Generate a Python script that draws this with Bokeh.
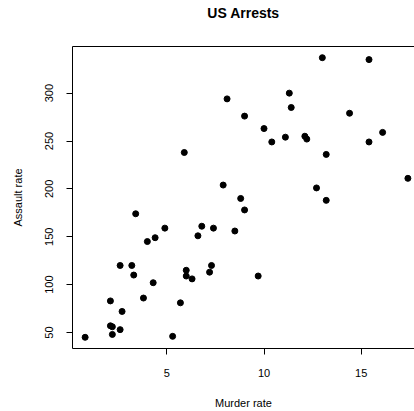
from bokeh.plotting import figure
from bokeh.models import FixedTicker, Range1d, LinearAxis
from bokeh.embed import file_html
from bokeh.resources import INLINE

murder = [13.2, 10.0, 8.1, 8.8, 9.0, 7.9, 3.3, 5.9, 15.4, 17.4, 5.3, 2.6, 10.4, 7.2, 2.2, 6.0, 9.7,
          15.4, 2.1, 11.3, 4.4, 12.1, 2.7, 16.1, 9.0, 6.0, 4.3, 12.2, 2.1, 7.4, 11.4, 11.1, 13.0,
          0.8, 7.3, 6.6, 4.9, 6.3, 3.4, 14.4, 3.8, 13.2, 12.7, 3.2, 2.2, 8.5, 4.0, 5.7, 2.6, 6.8]
assault = [236, 263, 294, 190, 276, 204, 110, 238, 335, 211, 46, 120, 249, 113, 56, 115, 109,
           249, 83, 300, 149, 255, 72, 259, 178, 109, 102, 252, 57, 159, 285, 254, 337,
           45, 120, 151, 159, 106, 174, 279, 86, 188, 201, 120, 48, 156, 145, 81, 53, 161]
x_ticks = [5, 10, 15]
y_ticks = [50, 100, 150, 200, 250, 300]
title_text = "US Arrests"

FONT = "Liberation Sans"

p = figure(width=414, height=411, frame_width=342, frame_height=302,
           min_border_left=72, min_border_right=0, min_border_top=46, min_border_bottom=63,
           output_backend="svg", toolbar_location=None,
           x_range=Range1d(0.15, 17.74), y_range=Range1d(33.3, 348.7))
p.background_fill_color = "white"
p.border_fill_color = "white"
p.outline_line_color = None
p.grid.visible = False

p.scatter(murder, assault, size=6, color="black")

for ax, ticks in ((p.xaxis, x_ticks), (p.yaxis, y_ticks)):
    ax.ticker = FixedTicker(ticks=ticks)
    ax.minor_tick_line_color = None
    ax.major_tick_in = 0
    ax.major_tick_out = 6
    ax.axis_line_color = "black"
    ax.major_tick_line_color = "black"
    ax.major_label_text_font = FONT
    ax.major_label_text_font_size = "11px"
    ax.major_label_text_color = "black"
    ax.axis_label_text_font = FONT
    ax.axis_label_text_font_size = "11px"
    ax.axis_label_text_font_style = "normal"
    ax.axis_label_text_color = "black"

p.xaxis.axis_label = "Murder rate"
p.yaxis.axis_label = "Assault rate"
p.yaxis.major_label_orientation = "vertical"
p.xaxis.major_label_standoff = 14
p.xaxis.axis_label_standoff = 17
p.yaxis.major_label_standoff = 13
p.yaxis.axis_label_standoff = 19

# top border of the box, carrying the title as its label
top = LinearAxis(ticker=FixedTicker(ticks=[]), axis_label=title_text)
top.minor_tick_line_color = None
top.major_tick_line_color = None
top.major_tick_in = 0
top.major_tick_out = 0
top.major_label_standoff = 0
top.axis_line_color = "black"
top.axis_label_text_font = FONT
top.axis_label_text_font_size = "14px"
top.axis_label_text_font_style = "bold"
top.axis_label_text_color = "black"
top.axis_label_standoff = 26
p.add_layout(top, "above")

open("out.html", "w").write(file_html(p, INLINE))
